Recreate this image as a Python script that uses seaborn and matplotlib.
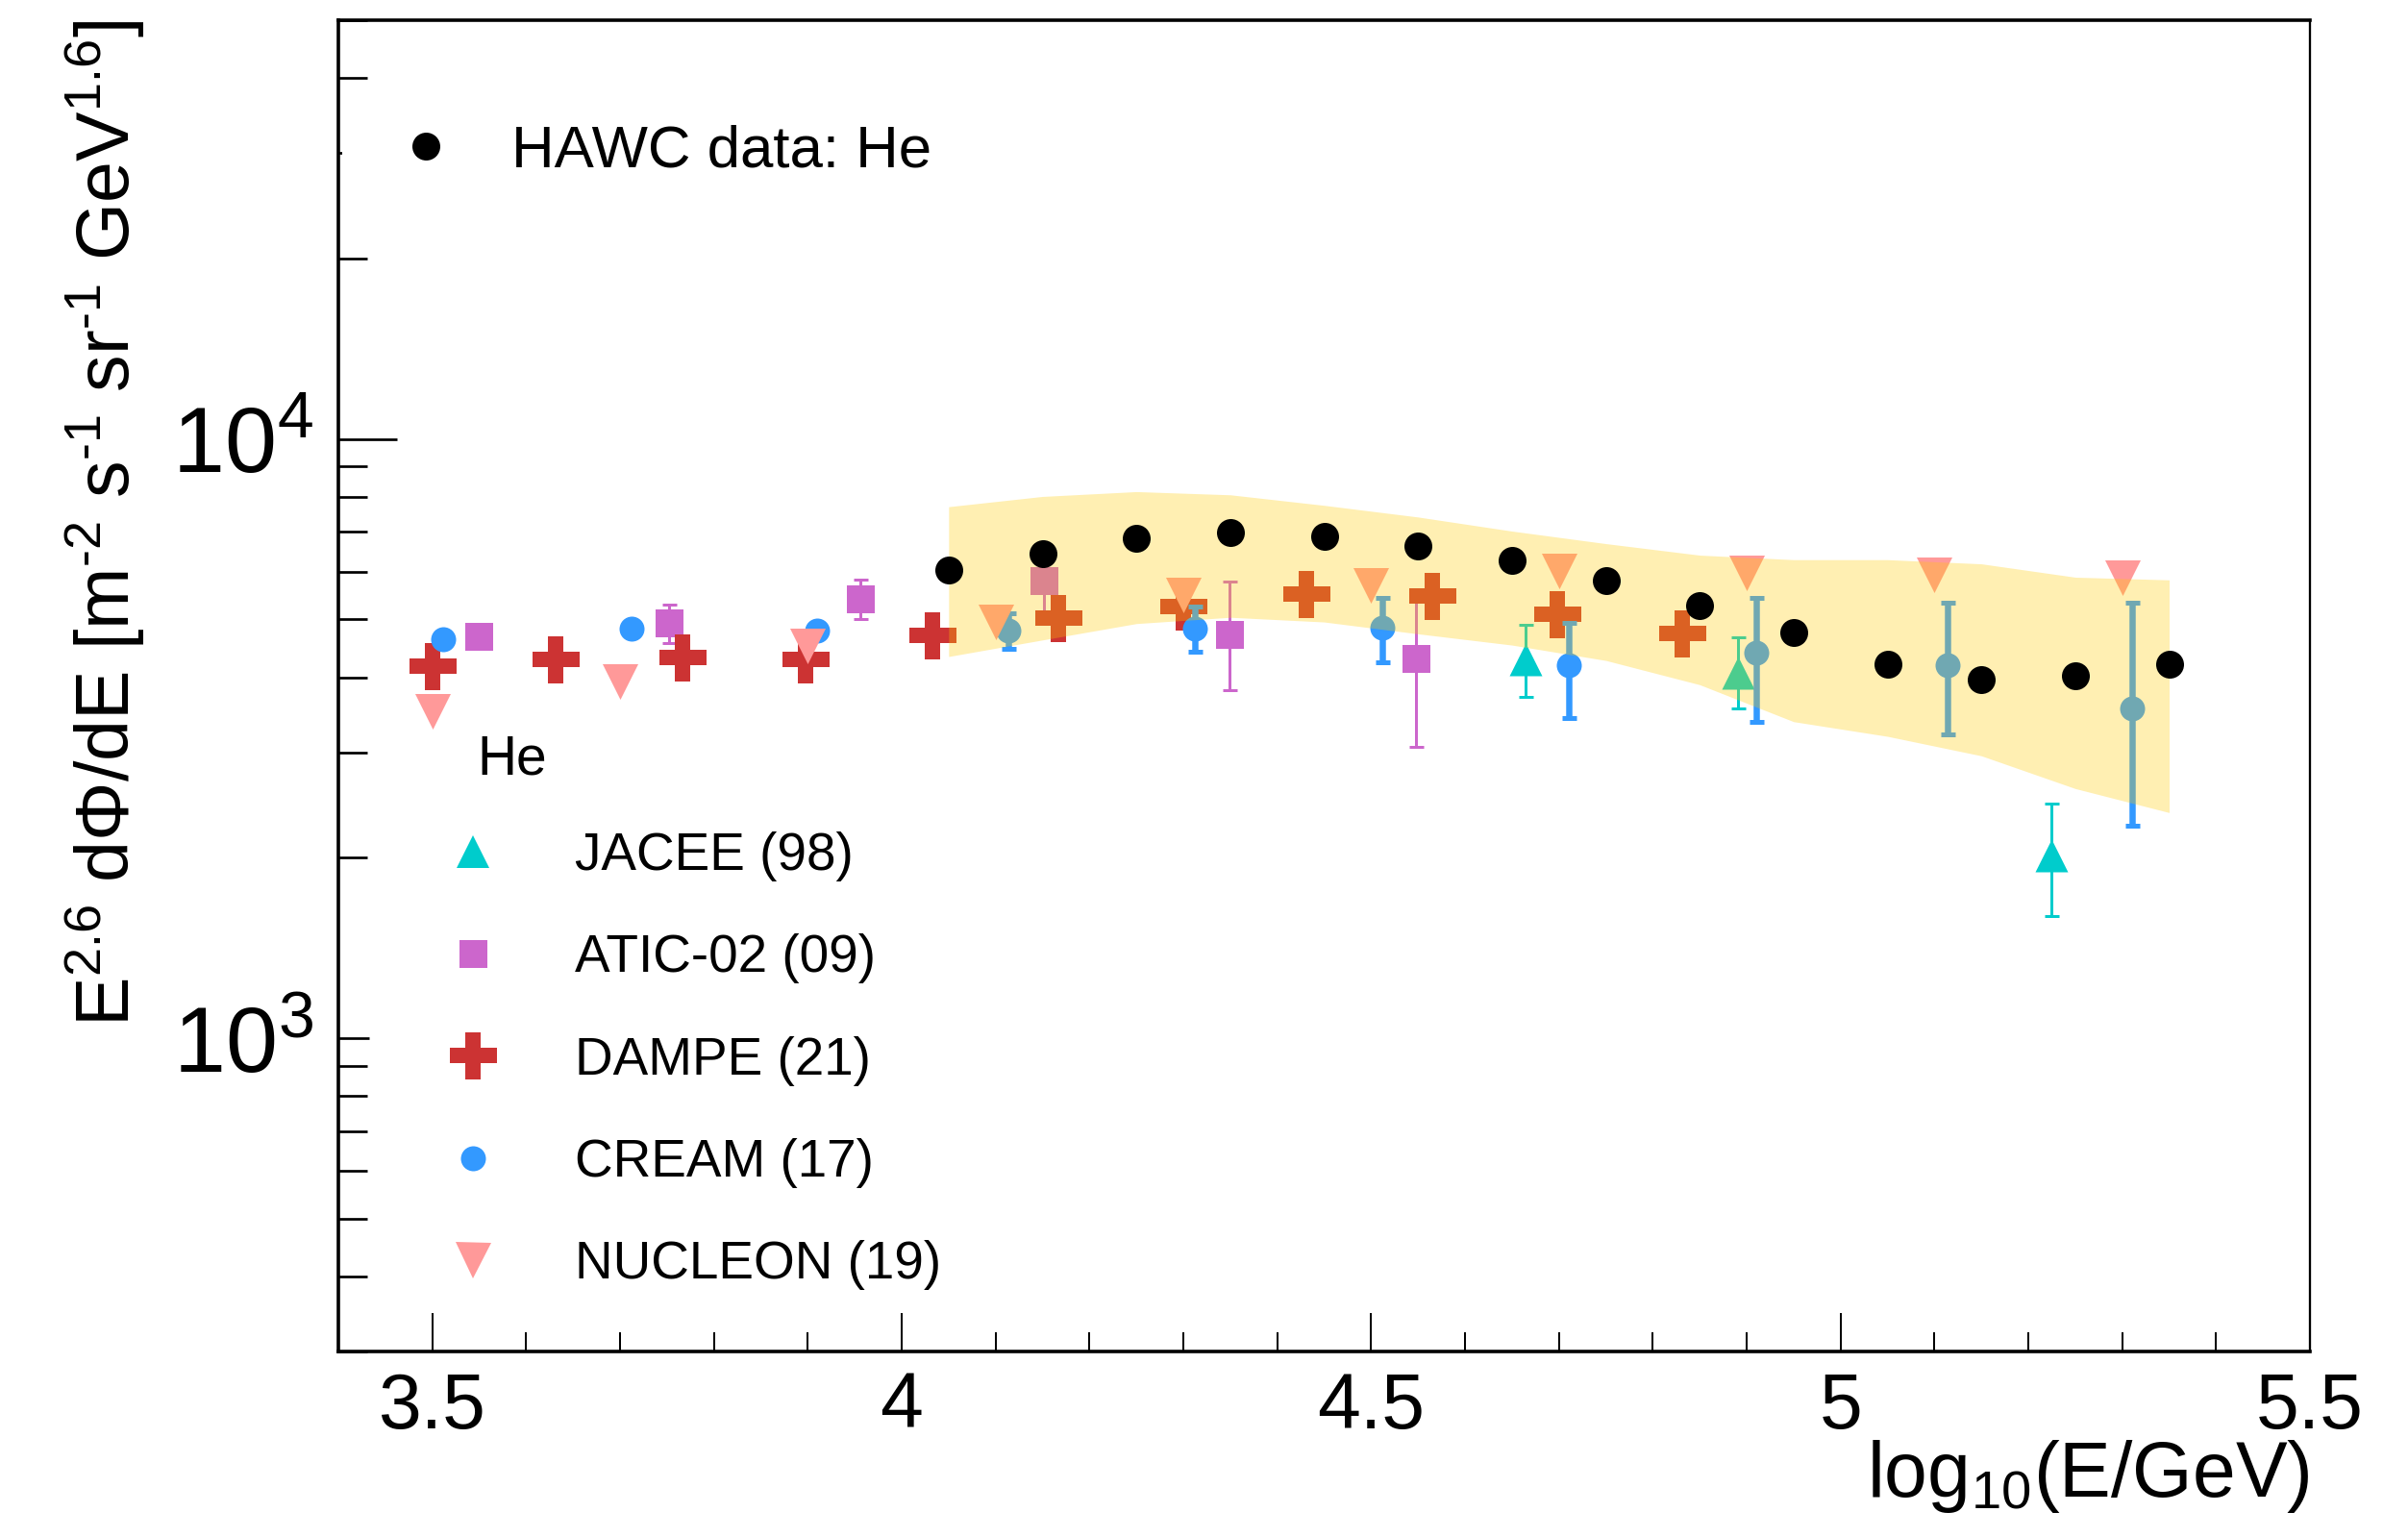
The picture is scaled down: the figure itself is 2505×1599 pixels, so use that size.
import numpy as np
import matplotlib
matplotlib.use("Agg")
import matplotlib.pyplot as plt
from matplotlib.lines import Line2D
from matplotlib.ticker import FixedLocator, NullFormatter, FuncFormatter, LogLocator
import seaborn as sns

# ---------------- data ----------------
# HAWC helium spectrum (log10 E/GeV, E^2.6 dPhi/dE) and systematic band
hawc_x = [4.05, 4.15, 4.25, 4.35, 4.45, 4.55, 4.65, 4.75, 4.85, 4.95, 5.05, 5.15, 5.25, 5.35]
hawc_y = [6040, 6438, 6832, 6982, 6866, 6617, 6283, 5800, 5276, 4746, 4206, 3961, 4024, 4210]
hawc_band_lo = [4335, 4620, 4920, 5040, 4950, 4730, 4530, 4270, 3890, 3375, 3190, 2960, 2610, 2380]
hawc_band_hi = [7710, 8020, 8170, 8070, 7750, 7410, 7020, 6690, 6400, 6290, 6290, 6190, 5880, 5820]

# JACEE (98)
jacee_x = [4.664, 4.891, 5.225]
jacee_y = [4285, 4077, 2017]
jacee_lo = [3706, 3549, 1596]
jacee_hi = [4897, 4666, 2461]

# ATIC-02 (09)
atic_x = [3.549, 3.752, 3.956, 4.152, 4.349, 4.548]
atic_y = [4677, 4935, 5406, 5810, 4713, 4305]
atic_lo = [4677, 4570, 5000, 5100, 3810, 3063]
atic_hi = [4677, 5300, 5820, 6500, 5791, 5400]

# DAMPE (21)
dampe_x = [3.500, 3.631, 3.767, 3.898, 4.033, 4.167, 4.300, 4.431, 4.565, 4.698, 4.831]
dampe_y = [4176, 4285, 4318, 4285, 4697, 5022, 5252, 5510, 5479, 5095, 4745]

# CREAM (17)
cream_x = [3.512, 3.712, 3.910, 4.114, 4.312, 4.512, 4.711, 4.910, 5.114, 5.311]
cream_y = [4626, 4818, 4790, 4783, 4818, 4842, 4189, 4406, 4196, 3557]
cream_lo = [4626, 4818, 4790, 4462, 4414, 4247, 3420, 3375, 3213, 2264]
cream_hi = [4626, 4818, 4790, 5110, 5249, 5433, 4942, 5434, 5336, 5330]

# NUCLEON (19)
nucleon_x = [3.50, 3.70, 3.90, 4.10, 4.30, 4.50, 4.70, 4.90, 5.10, 5.30]
nucleon_y = [3508, 3945, 4520, 4949, 5497, 5690, 6025, 5972, 5929, 5858]

x_ticks = [3.5, 4.0, 4.5, 5.0, 5.5]
x_tick_labels = ["3.5", "4", "4.5", "5", "5.5"]

# ---------------- style ----------------
sns.set_style("white")
plt.rcParams.update({
    "font.family": ["Liberation Sans", "DejaVu Sans"],
    "mathtext.fontset": "custom",
    "mathtext.rm": "Liberation Sans",
    "mathtext.it": "Liberation Sans:italic",
    "mathtext.bf": "Liberation Sans:bold",
    "mathtext.default": "regular",
    "text.color": "black",
    "axes.labelcolor": "black",
    "xtick.color": "black",
    "ytick.color": "black",
    "axes.edgecolor": "black",
})

C_JACEE = "#00cccc"
C_ATIC = "#cc66cc"
C_DAMPE = "#cc3333"
C_CREAM = "#3399ff"
C_NUCLEON = "#ff9999"
C_BAND = "#ffcc00"

W, H = 2505, 1599
fig = plt.figure(figsize=(W / 100, H / 100), dpi=100)
fig.patch.set_facecolor("white")


def fx(px):
    return px / W


def fy(py):
    return 1 - py / H


ax_l, ax_r, ax_t, ax_b = 352, 2403, 21, 1406
ax = fig.add_axes([fx(ax_l), fy(ax_b), (ax_r - ax_l) / W, (ax_b - ax_t) / H])
ax.set_facecolor("white")
ax.set_yscale("log")
ax.set_xlim(3.4, 5.5)
ax.set_ylim(300, 5.0e4)

PX = 72 / 100  # points per pixel


def errbars(x, y, lo, hi, color, lw_px, cap_px, capthick_px, z):
    x = np.asarray(x, float)
    y = np.asarray(y, float)
    lo = np.asarray(lo, float)
    hi = np.asarray(hi, float)
    m = (hi > y) | (lo < y)
    ax.errorbar(x[m], y[m], yerr=[y[m] - lo[m], hi[m] - y[m]], fmt="none",
                ecolor=color, elinewidth=lw_px * PX, capsize=cap_px * PX,
                capthick=capthick_px * PX, zorder=z)


# JACEE
errbars(jacee_x, jacee_y, jacee_lo, jacee_hi, C_JACEE, 3, 7.5, 3, 3)
sns.scatterplot(x=jacee_x, y=jacee_y, ax=ax, marker="^", s=(34 * PX) ** 2,
                color=C_JACEE, linewidth=0, zorder=3.1)

# ATIC-02
errbars(atic_x, atic_y, atic_lo, atic_hi, C_ATIC, 3, 7.5, 3, 4)
sns.scatterplot(x=atic_x, y=atic_y, ax=ax, marker="s", s=(29 * PX) ** 2,
                color=C_ATIC, linewidth=0, zorder=4.1)

# DAMPE
sns.scatterplot(x=dampe_x, y=dampe_y, ax=ax, marker="P", s=(49 * PX) ** 2,
                color=C_DAMPE, linewidth=0, zorder=5)

# CREAM
errbars(cream_x, cream_y, cream_lo, cream_hi, C_CREAM, 6.5, 7.5, 5, 6)
sns.scatterplot(x=cream_x, y=cream_y, ax=ax, marker="o", s=(26 * PX) ** 2,
                color=C_CREAM, linewidth=0, zorder=6.1)

# NUCLEON
sns.scatterplot(x=nucleon_x, y=nucleon_y, ax=ax, marker="v", s=(37 * PX) ** 2,
                color=C_NUCLEON, linewidth=0, zorder=7)

# HAWC systematic band and data
ax.fill_between(hawc_x, hawc_band_lo, hawc_band_hi, color=C_BAND, alpha=0.3,
                linewidth=0, zorder=8)
sns.scatterplot(x=hawc_x, y=hawc_y, ax=ax, marker="o", s=(29 * PX) ** 2,
                color="black", linewidth=0, zorder=9)

# ---------------- axes ----------------
ax.xaxis.set_major_locator(FixedLocator(x_ticks))
ax.xaxis.set_major_formatter(FuncFormatter(lambda v, p: x_tick_labels[x_ticks.index(round(v, 1))]
                                           if round(v, 1) in x_ticks else ""))
ax.xaxis.set_minor_locator(FixedLocator([v / 10 for v in range(35, 55) if v % 5 != 0]))
ax.yaxis.set_major_locator(FixedLocator([1e3, 1e4]))
ax.yaxis.set_major_formatter(FuncFormatter(lambda v, p: r"$10^{%d}$" % round(np.log10(v))))
ax.yaxis.set_minor_locator(LogLocator(base=10, subs=np.arange(2, 10)))
ax.yaxis.set_minor_formatter(NullFormatter())

ax.tick_params(axis="x", which="major", direction="in", length=40 * PX, width=2 * PX,
               top=False, bottom=True, labelsize=58, pad=15, colors="black")
ax.tick_params(axis="x", which="minor", direction="in", length=20 * PX, width=2 * PX,
               top=False, bottom=True, colors="black")
ax.tick_params(axis="y", which="major", direction="in", length=61 * PX, width=2.7 * PX,
               left=True, right=False, labelsize=70, pad=19, colors="black")
ax.tick_params(axis="y", which="minor", direction="in", length=30 * PX, width=2.7 * PX,
               left=True, right=False, colors="black")
ax.yaxis.get_major_ticks()[0].tick1line.set_markersize(32 * PX)

for side in ["left", "top", "bottom"]:
    ax.spines[side].set_linewidth(3.6 * PX)
    ax.spines[side].set_color("black")
ax.spines["right"].set_linewidth(2.3 * PX)
ax.spines["right"].set_color("black")

ax.set_xlabel(r"log$_{10}$(E/GeV)", fontsize=58, ha="right", va="baseline", color="black")
ax.xaxis.set_label_coords(1.0, (ax_b - 1557) / (ax_b - ax_t))
HY = "\u2010"  # short hyphen used for the negative exponents
ax.set_ylabel("E$^{2.6}$ dΦ/dE [m$^{" + HY + "2}$ s$^{" + HY + "1}$ sr$^{" + HY + "1}$ GeV$^{1.6}$]",
              fontsize=55.5, rotation=90, rotation_mode="anchor", ha="right", va="baseline",
              color="black")
ax.yaxis.set_label_coords((135 - ax_l) / (ax_r - ax_l), 1.0)

# ---------------- legends ----------------
h_hawc = [Line2D([], [], ls="none", marker="o", color="black", markersize=29 * PX,
                 markeredgewidth=0)]
leg1 = ax.legend(h_hawc, ["HAWC data: He"], loc="upper left",
                 bbox_to_anchor=(fx(356), fy(117)), bbox_transform=fig.transFigure,
                 fontsize=44.5, borderpad=0.2, handlelength=2.42, handletextpad=0.22,
                 frameon=True, fancybox=False, facecolor="white", edgecolor="none",
                 framealpha=1, borderaxespad=0, labelcolor="black")
leg1.set_zorder(10)
ax.add_artist(leg1)

h_ref = [
    Line2D([], [], ls="none", marker="^", color=C_JACEE, markersize=34 * PX, markeredgewidth=0),
    Line2D([], [], ls="none", marker="s", color=C_ATIC, markersize=29 * PX, markeredgewidth=0),
    Line2D([], [], ls="none", marker="P", color=C_DAMPE, markersize=49 * PX, markeredgewidth=0),
    Line2D([], [], ls="none", marker="o", color=C_CREAM, markersize=26 * PX, markeredgewidth=0),
    Line2D([], [], ls="none", marker="v", color=C_NUCLEON, markersize=37 * PX, markeredgewidth=0),
]
labels_ref = ["JACEE (98)", "ATIC-02 (09)", "DAMPE (21)", "CREAM (17)", "NUCLEON (19)"]
leg2 = ax.legend(h_ref, labels_ref, loc="upper left",
                 bbox_to_anchor=(fx(465), fy(865)), bbox_transform=fig.transFigure,
                 fontsize=39.5, borderpad=0, labelspacing=0.99, handlelength=1.0,
                 handletextpad=1.43, frameon=False, borderaxespad=0, labelcolor="black")
leg2.set_zorder(10)

fig.text(fx(496), fy(805), "He", fontsize=41, ha="left", va="baseline", color="black")

fig.savefig("out.png", dpi=100, facecolor="white")
